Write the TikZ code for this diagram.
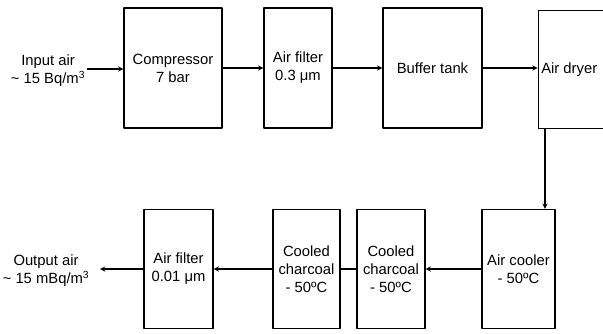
\documentclass[tikz,border=0pt]{standalone}
\usepackage{fontspec}
\setmainfont{Liberation Sans}
\begin{document}
\begin{tikzpicture}[x=1pt,y=-1pt,line join=round,>=stealth,line width=1.35pt,
	font=\fontsize{14.8}{18}\selectfont,
	blk/.style={draw,minimum height=120,inner sep=1pt,align=center},
	txt/.style={align=center,inner sep=0pt}]
	\useasboundingbox (0,0) rectangle (603,333);
	% upper row
	\node[blk,minimum width=98] (comp) at (173,68) {Compressor\\7 bar};
	\node[blk,minimum width=68] (filtA) at (298,68) {Air filter\\0.3 μm};
	\node[blk,minimum width=99] (buf) at (432.5,68) {Buffer tank};
	\node[blk,minimum width=110,minimum height=118,anchor=north west] (dryer) at (537.6,9.6) {};
	\node[anchor=west,inner sep=3pt] (dryertxt) at (dryer.west) {Air dryer};
	\node[txt] (in) at (48,71) {Input air\\\textasciitilde{} 15 Bq/m\textsuperscript{3}};
	% lower row
	\node[blk,minimum width=73,minimum height=119] (cool) at (518.5,269) {Air cooler\\- 50ºC};
	\node[blk,minimum width=68,minimum height=119] (charB) at (391,269) {Cooled\\charcoal\\- 50ºC};
	\node[blk,minimum width=67,minimum height=119] (charA) at (306.5,269) {Cooled\\charcoal\\- 50ºC};
	\node[blk,minimum width=69,minimum height=119] (filtB) at (178.5,269) {Air filter\\0.01 μm};
	\node[txt] (out) at (46,271) {Output air\\\textasciitilde{} 15 mBq/m\textsuperscript{3}};
	\coordinate (inend) at (87,69);
	\coordinate (outend) at (100,269);
	% connectors
	\draw[->] (inend) -- (inend -| comp.west);
	\draw[->] (comp) -- (filtA);
	\draw[->] (filtA) -- (buf);
	\draw[->] (buf.east) -- (buf.east -| dryer.west);
	\draw[->] ([xshift=7.4]dryer.south west) -- ([xshift=7.4]dryer.south west |- cool.north);
	\draw[->] (cool) -- (charB);
	\draw (charB) -- (charA);
	\draw[->] (charA) -- (filtB);
	\draw[->] (filtB.west) -- (outend);
\end{tikzpicture}
\end{document}
